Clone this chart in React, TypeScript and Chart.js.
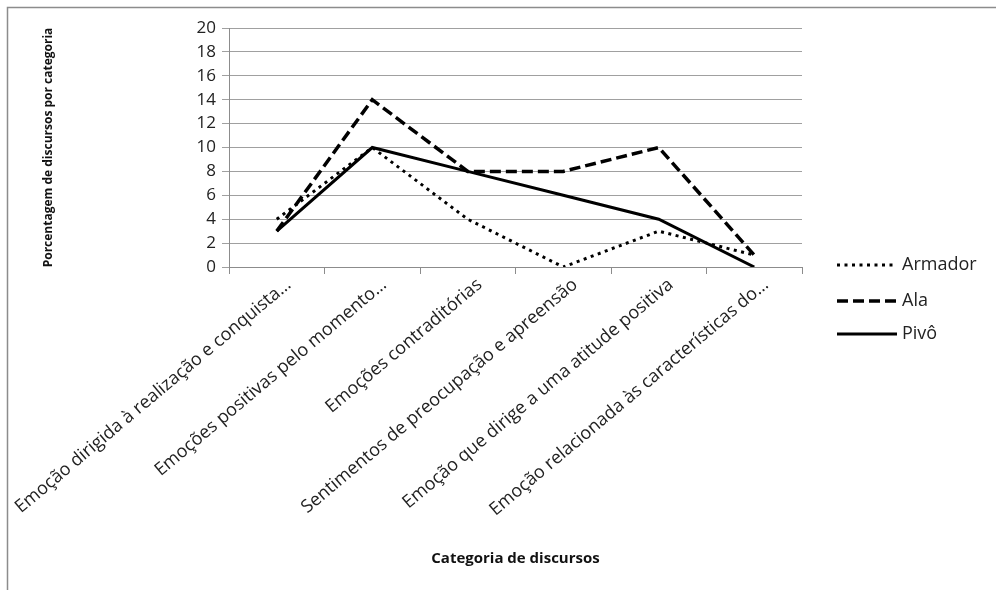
import React, { useEffect, useRef } from "react";
import { Chart, registerables } from "chart.js";

Chart.register(...registerables);

const categories = [
  "Emoção dirigida à realização e conquista…",
  "Emoções positivas pelo momento…",
  "Emoções contraditórias",
  "Sentimentos de preocupação e apreensão",
  "Emoção que dirige a uma atitude positiva",
  "Emoção relacionada às características do…",
];
const seriesNames = ["Armador", "Ala", "Pivô"];
const armador = [4, 10, 4, 0, 3, 1];
const ala = [3, 14, 8, 8, 10, 1];
const pivo = [3, 10, 8, 6, 4, 0];
const yMin = 0;
const yMax = 20;
const yStep = 2;
const xTitle = "Categoria de discursos";
const yTitle = "Porcentagem de discursos por categoria";

const FONT = "'Open Sans', 'Noto Sans', sans-serif";

const framePlugin = {
  id: "frame",
  beforeDraw(chart: any) {
    const ctx = chart.ctx;
    ctx.save();
    ctx.strokeStyle = "#8c8c8c";
    ctx.lineWidth = 1.5;
    ctx.beginPath();
    ctx.moveTo(7.5, 590);
    ctx.lineTo(7.5, 7.5);
    ctx.lineTo(996, 7.5);
    ctx.stroke();
    ctx.restore();
  },
};

const legendPlugin = {
  id: "sideLegend",
  afterDraw(chart: any) {
    const ctx = chart.ctx;
    const area = chart.chartArea;
    const x0 = area.right + 35;
    const x1 = area.right + 95;
    const rows = [265, 301, 334];
    ctx.save();
    chart.data.datasets.forEach((ds: any, i: number) => {
      const y = rows[i];
      ctx.beginPath();
      ctx.strokeStyle = ds.borderColor;
      ctx.lineWidth = ds.borderWidth;
      ctx.setLineDash(ds.borderDash || []);
      ctx.lineCap = "butt";
      ctx.moveTo(x0, y);
      ctx.lineTo(x1, y);
      ctx.stroke();
      ctx.setLineDash([]);
      ctx.fillStyle = "#222";
      ctx.font = `18px ${FONT}`;
      ctx.textBaseline = "middle";
      ctx.textAlign = "left";
      ctx.fillText(ds.label, area.right + 100, y);
    });
    ctx.restore();
  },
};

export default function App() {
  const ref = useRef<HTMLCanvasElement | null>(null);
  useEffect(() => {
    if (!ref.current) return;
    const chart = new Chart(ref.current, {
      type: "line",
      data: {
        labels: categories,
        datasets: [
          {
            label: seriesNames[0],
            data: armador,
            borderColor: "#000",
            borderWidth: 3,
            borderDash: [3, 4.5],
            pointRadius: 0,
            tension: 0,
            fill: false,
          },
          {
            label: seriesNames[1],
            data: ala,
            borderColor: "#000",
            borderWidth: 3.5,
            borderDash: [11, 5],
            pointRadius: 0,
            tension: 0,
            fill: false,
          },
          {
            label: seriesNames[2],
            data: pivo,
            borderColor: "#000",
            borderWidth: 3,
            pointRadius: 0,
            tension: 0,
            fill: false,
          },
        ],
      },
      options: {
        responsive: false,
        animation: false,
        layout: { padding: { left: 41, top: 28, right: 194, bottom: 22 } },
        plugins: { legend: { display: false }, tooltip: { enabled: false } },
        scales: {
          x: {
            type: "category",
            offset: true,
            grid: {
              offset: true,
              drawOnChartArea: false,
              drawTicks: true,
              tickLength: 7,
              color: "#8c8c8c",
            },
            border: { color: "#8c8c8c", width: 1 },
            ticks: {
              autoSkip: false,
              minRotation: 40,
              maxRotation: 40,
              labelOffset: 12,
              padding: 0,
              color: "#222",
              font: { family: FONT, size: 18 },
            },
            title: {
              display: true,
              text: xTitle,
              color: "#111",
              padding: 0,
              font: { family: FONT, size: 15, weight: "bold" },
            },
            afterFit(scale: any) {
              scale.height = 568 - 267;
              scale.paddingLeft = 0;
              scale.paddingRight = 0;
            },
          },
          y: {
            min: yMin,
            max: yMax,
            ticks: {
              stepSize: yStep,
              padding: 6,
              color: "#222",
              font: { family: FONT, size: 17 },
            },
            grid: { color: "#a0a0a0", tickLength: 7, lineWidth: 1 },
            border: { color: "#8c8c8c", width: 1 },
            title: {
              display: true,
              text: yTitle,
              color: "#111",
              padding: 0,
              font: { family: FONT, size: 12, weight: "bold" },
            },
            afterFit(scale: any) {
              scale.width = 229 - 41;
            },
          },
        },
      },
      plugins: [framePlugin, legendPlugin],
    });
    return () => chart.destroy();
  }, []);
  return (
    <div style={{ position: "absolute", left: 0, top: 0, width: 996, height: 590, background: "#fff" }}>
      <canvas ref={ref} width={996} height={590} style={{ display: "block" }} />
    </div>
  );
}
